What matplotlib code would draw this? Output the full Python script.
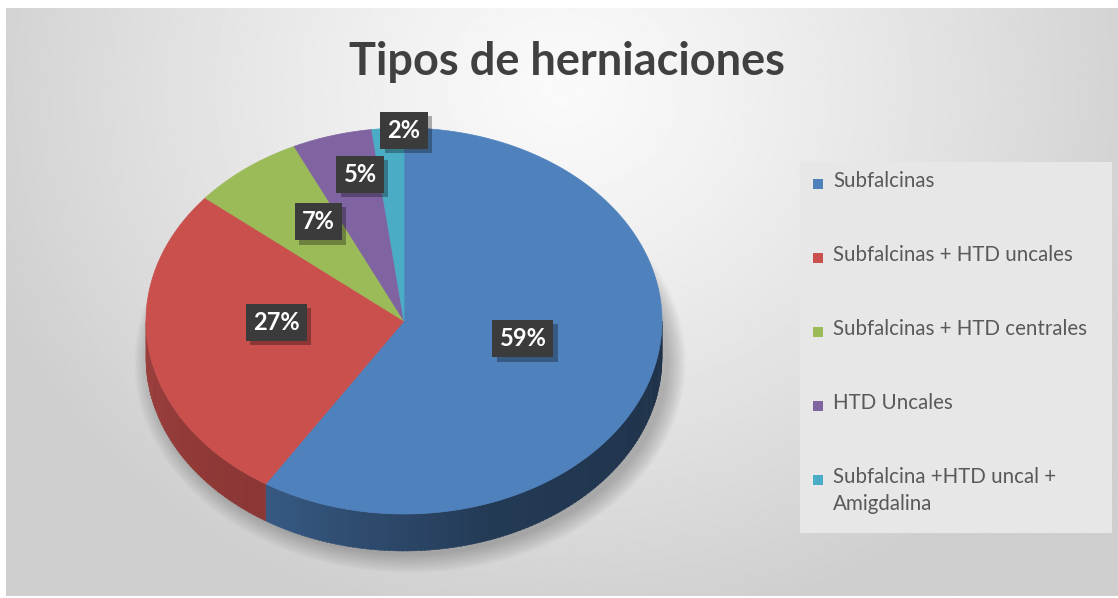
import numpy as np
import matplotlib.pyplot as plt
import matplotlib.patheffects as pe
from matplotlib.patches import Polygon, Rectangle, Ellipse

# datos del gráfico
categorias = ['Subfalcinas', 'Subfalcinas + HTD uncales', 'Subfalcinas + HTD centrales',
              'HTD Uncales', 'Subfalcina +HTD uncal +\nAmigdalina']
valores = [59, 27, 7, 5, 2]
colores = ['#4f81bd', '#c9504d', '#9bbb59', '#8064a2', '#4bacc6']
titulo = 'Tipos de herniaciones'

plt.rcParams['font.family'] = ['Lato', 'DejaVu Sans']

W, H = 1118, 598
fig = plt.figure(figsize=(W / 100, H / 100), dpi=100)
ax = fig.add_axes([0, 0, 1, 1])

# fondo con degradado radial
yy, xx = np.mgrid[0:H, 0:W]
d = np.sqrt(((xx - 560) / 620) ** 2 + ((yy - 80) / 560) ** 2)
g = 0.98 - 0.17 * np.clip(d, 0, 1) ** 1.2
ax.imshow(g, cmap='gray', vmin=0, vmax=1, extent=[6, W, H - 2, 8], aspect='auto', zorder=0)
ax.set_xlim(0, W)
ax.set_ylim(H, 0)
ax.axis('off')

# geometría del pastel 3D (coordenadas en píxeles)
cx, cy, rx, ry, prof = 404, 321, 258, 193, 37


def punto(t, dy=0.0):
    t = np.radians(t)
    return cx + rx * np.cos(t), cy - ry * np.sin(t) + dy


# sombra bajo el pastel
for k in range(12):
    ax.add_patch(Ellipse((cx + 6, cy + prof + 4), 2 * (rx + k * 1.6), 2 * (ry + k * 1.6),
                         color='k', alpha=0.018, lw=0, zorder=1))

# ángulos de las porciones (inicio a las 12, sentido horario)
total = sum(valores)
fin = 90 - np.cumsum(valores) / total * 360
ini = np.concatenate([[90], fin[:-1]])


def factor(t):
    return np.interp(t, [180, 240, 290, 360], [0.78, 0.68, 0.45, 0.38])


# paredes laterales (solo la mitad frontal, 180..360 grados)
for t_ini, t_fin, col in zip(ini, fin, colores):
    a = t_fin % 360
    b = a + (t_ini - t_fin)
    lo, hi = max(a, 180), min(b, 360)
    if hi <= lo:
        continue
    base = np.array(plt.matplotlib.colors.to_rgb(col))
    for t0 in np.arange(lo, hi, 1.0):
        t1 = min(t0 + 1.2, hi)
        ts = np.linspace(t0, t1, 4)
        top = [punto(t) for t in ts]
        bot = [punto(t, prof) for t in ts[::-1]]
        c = np.clip(base * factor(t0 + 0.5), 0, 1)
        ax.add_patch(Polygon(top + bot, closed=True, facecolor=c, edgecolor=c,
                             lw=0.3, zorder=2))

# caras superiores
for t_ini, t_fin, col in zip(ini, fin, colores):
    ts = np.linspace(t_fin, t_ini, 200)
    pts = [(cx, cy)] + [punto(t) for t in ts]
    ax.add_patch(Polygon(pts, closed=True, facecolor=col, edgecolor=col, lw=0.5, zorder=3))

# etiquetas de datos
radios_x = [0.48, 0.50, 0.54, 0.61, 0.0]
radios_y = [0.33, 0.05, 0.65, 0.79, 0.99]
for t_ini, t_fin, v, fx, fy in zip(ini, fin, valores, radios_x, radios_y):
    tm = np.radians((t_ini + t_fin) / 2)
    x = cx + fx * rx * np.cos(tm)
    y = cy - fy * ry * np.sin(tm)
    etiqueta = f'{round(v / total * 100)}%'
    t = ax.text(x, y, etiqueta, ha='center', va='center', fontsize=17, fontweight='bold',
                color='white', zorder=5,
                bbox=dict(boxstyle='square,pad=0.3', facecolor='#3b3b3b', lw=0))
    t.get_bbox_patch().set_path_effects(
        [pe.SimplePatchShadow(offset=(3, -3), shadow_rgbFace='k', alpha=0.3), pe.Normal()])

# leyenda
ax.add_patch(Rectangle((800, 162), 312, 371, facecolor='#e7e7e7', edgecolor='none', zorder=2))
y0, paso_y = 184, 74
for i, (cat, col) in enumerate(zip(categorias, colores)):
    y = y0 + i * paso_y
    ax.add_patch(Rectangle((813, y - 5), 10, 10, facecolor=col, edgecolor='none', zorder=3))
    ax.text(833, y - 13, cat, ha='left', va='top', fontsize=14.8, color='#595959',
            linespacing=1.45, zorder=3)

# título
ax.text(567, 62, titulo, ha='center', va='center', fontsize=32.5, fontweight='bold',
        color='#404040', zorder=3)

fig.savefig('out.png', dpi=100)
